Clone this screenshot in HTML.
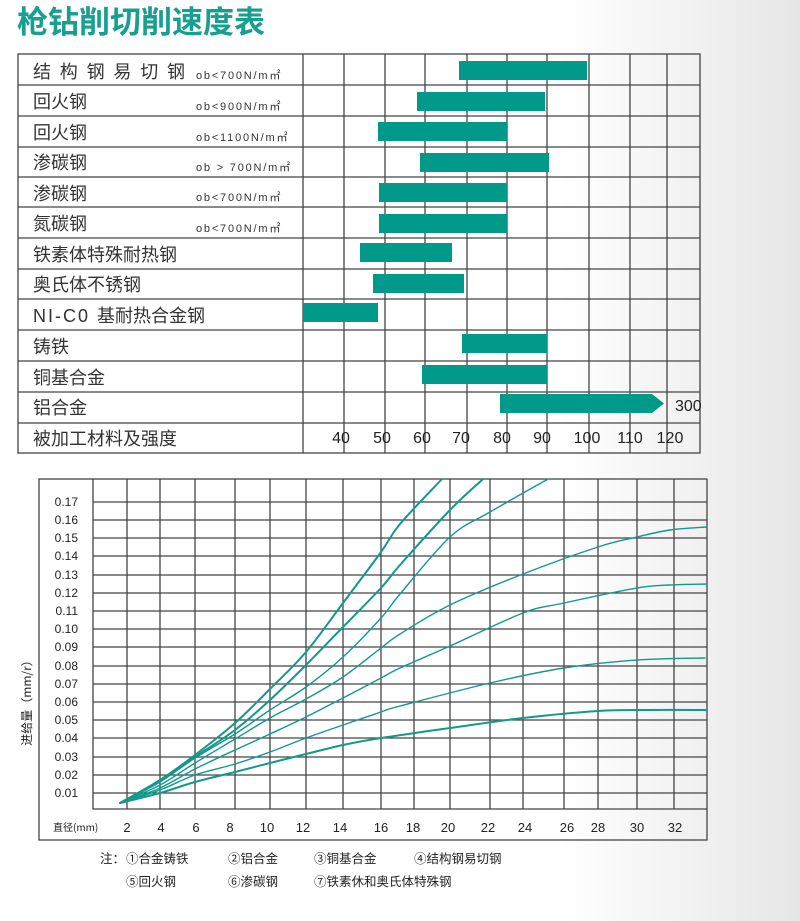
<!DOCTYPE html>
<html><head><meta charset="utf-8"><style>
html,body{margin:0;padding:0}
body{width:800px;height:916px;overflow:hidden;background:linear-gradient(to right,#fff 0%,#fff 70%,#e6e6e6 100%);font-family:"Liberation Sans","Noto Sans CJK SC",sans-serif}
</style></head><body>
<svg width="800" height="916" viewBox="0 0 800 916" xmlns="http://www.w3.org/2000/svg" font-family="Liberation Sans, Noto Sans CJK SC, sans-serif">
<text x="17" y="33" font-size="31" font-weight="bold" fill="#17a08f" font-family="Noto Sans CJK SC, sans-serif">枪钻削切削速度表</text>
<g stroke="#444" stroke-width="1.3" fill="none">
<rect x="18" y="54" width="682" height="399"/>
<path d="M18 85H700M18 116H700M18 147H700M18 177H700M18 207H700M18 238H700M18 269H700M18 299H700M18 330H700M18 361H700M18 392H700M18 423H700"/>
<path d="M303 54V453M344 54V453M385 54V453M425 54V453M467 54V453M507 54V453M547 54V453M589 54V453M630 54V453M667 54V453"/>
</g>
<g fill="#00998a">
<rect x="459" y="61" width="128" height="19"/>
<rect x="417" y="92" width="128" height="19"/>
<rect x="378" y="122" width="129" height="19"/>
<rect x="420" y="153" width="129" height="19"/>
<rect x="379" y="183" width="128" height="19"/>
<rect x="379" y="214" width="128" height="19"/>
<rect x="360" y="243" width="92" height="19"/>
<rect x="373" y="274" width="91" height="19"/>
<rect x="303" y="303" width="75" height="19"/>
<rect x="462" y="334" width="85" height="19"/>
<rect x="422" y="365" width="125" height="19"/>
<polygon points="500,394 652,394 664,403.5 652,413 500,413"/>
</g>
<text x="675" y="411" font-size="16" fill="#222">300</text>
<g font-size="18" fill="#333" font-family="Noto Sans CJK SC, sans-serif">
<text x="33" y="78" letter-spacing="8.8">结构钢易切钢</text>
<text x="33" y="108">回火钢</text>
<text x="33" y="139">回火钢</text>
<text x="33" y="169">渗碳钢</text>
<text x="33" y="200">渗碳钢</text>
<text x="33" y="230">氮碳钢</text>
<text x="33" y="261">铁素体特殊耐热钢</text>
<text x="33" y="291">奥氏体不锈钢</text>
<text x="33" y="322"><tspan font-family="Liberation Sans" letter-spacing="2">NI-C0 </tspan>基耐热合金钢</text>
<text x="33" y="353">铸铁</text>
<text x="33" y="384">铜基合金</text>
<text x="33" y="414">铝合金</text>
<text x="33" y="445">被加工材料及强度</text>
</g>
<g font-size="11" fill="#333" letter-spacing="1.8">
<text x="196" y="79">ob&lt;700N/m㎡</text>
<text x="196" y="110">ob&lt;900N/m㎡</text>
<text x="196" y="141">ob&lt;1100N/m㎡</text>
<text x="196" y="171">ob &gt; 700N/m㎡</text>
<text x="196" y="201">ob&lt;700N/m㎡</text>
<text x="196" y="232">ob&lt;700N/m㎡</text>
</g>
<g font-size="16" fill="#222" text-anchor="middle">
<text x="341" y="443">40</text><text x="382" y="443">50</text><text x="422" y="443">60</text><text x="461" y="443">70</text><text x="502" y="443">80</text><text x="542" y="443">90</text><text x="587" y="443">100</text><text x="630" y="443">110</text><text x="670" y="443">120</text>
</g>
<g stroke="#444" stroke-width="1.3" fill="none">
<rect x="39" y="479" width="668" height="361"/>
<path d="M93 479V809H707"/>
<path d="M93 502H707M93 520H707M93 538H707M93 556H707M93 575H707M93 593H707M93 611H707M93 629H707M93 647H707M93 666H707M93 684H707M93 702H707M93 720H707M93 738H707M93 757H707M93 775H707M93 793H707"/>
<path d="M127 479V809M160 479V809M195 479V809M235 479V809M270 479V809M306 479V809M343 479V809M381 479V809M414 479V809M450 479V809M490 479V809M523 479V809M564 479V809M598 479V809M637 479V809M674 479V809"/>
</g>
<g fill="none" stroke="#12998c" stroke-linejoin="round" stroke-linecap="round">
<path class="c" stroke-width="2" d="M120 803 L160 780 L195 755 L235 723 L270 689 L306 652 L343 603 L381 552 L400 524 L442 479"/>
<path class="c" stroke-width="2" d="M120 803 L160 781 L195 757 L235 730 L270 700 L306 665 L343 627 L381 588 L400 565 L450 510 L483 479"/>
<path class="c" stroke-width="1.4" d="M120 803 L160 782 L195 758 L235 734 L270 710 L306 687 L343 657 L381 618 L400 594 L450 537 L490 512 L548 479"/>
<path class="c" stroke-width="1.4" d="M120 803 L160 785 L195 763 L235 739 L270 718 L306 699 L343 677 L381 648 L400 634 L450 605 L523 574 L598 547 L637 537 L670 530 L707 527"/>
<path class="c" stroke-width="1.4" d="M120 803 L160 788 L195 769 L235 750 L270 734 L306 717 L343 698 L381 678 L400 668 L450 646 L523 613 L564 603 L637 588 L670 585 L707 584"/>
<path class="c" stroke-width="1.4" d="M120 803 L160 790 L195 775 L235 764 L270 752 L306 738 L343 725 L381 712 L400 706 L490 683 L564 668 L637 660 L705 658"/>
<path class="c" stroke-width="2" d="M120 803 L160 793 L195 782 L235 772 L270 763 L306 754 L343 745 L381 738 L450 728 L523 718 L598 711 L650 710 L707 710"/>
</g>
<g font-size="12" fill="#222" text-anchor="end">
<text x="78" y="506">0.17</text><text x="78" y="524">0.16</text><text x="78" y="542">0.15</text><text x="78" y="560">0.14</text><text x="78" y="579">0.13</text><text x="78" y="597">0.12</text><text x="78" y="615">0.11</text><text x="78" y="633">0.10</text><text x="78" y="651">0.09</text><text x="78" y="670">0.08</text><text x="78" y="688">0.07</text><text x="78" y="706">0.06</text><text x="78" y="724">0.05</text><text x="78" y="742">0.04</text><text x="78" y="761">0.03</text><text x="78" y="779">0.02</text><text x="78" y="797">0.01</text>
</g>
<text transform="translate(31 700) rotate(-90)" font-size="12" fill="#222" text-anchor="middle" font-family="Noto Sans CJK SC, sans-serif">进给量（mm/r）</text>
<text x="53" y="831" font-size="10" fill="#222" font-family="Noto Sans CJK SC, sans-serif">直径(mm)</text>
<g font-size="13" fill="#222" text-anchor="middle">
<text x="127" y="832">2</text><text x="161" y="832">4</text><text x="196" y="832">6</text><text x="230" y="832">8</text><text x="267" y="832">10</text><text x="303" y="832">12</text><text x="340" y="832">14</text><text x="381" y="832">16</text><text x="413" y="832">18</text><text x="448" y="832">20</text><text x="488" y="832">22</text><text x="525" y="832">24</text><text x="567" y="832">26</text><text x="598" y="832">28</text><text x="637" y="832">30</text><text x="675" y="832">32</text>
</g>
<g font-size="12.5" fill="#222" font-family="Noto Sans CJK SC, sans-serif">
<text x="100" y="863">注：</text>
<text x="126" y="863">①合金铸铁</text><text x="228" y="863">②铝合金</text><text x="314" y="863">③铜基合金</text><text x="414" y="863">④结构钢易切钢</text>
<text x="126" y="886">⑤回火钢</text><text x="228" y="886">⑥渗碳钢</text><text x="314" y="886">⑦铁素休和奥氏体特殊钢</text>
</g>
</svg>
<script>
document.querySelectorAll('path.c').forEach(function(p){
  var n=p.getAttribute('d').match(/-?[\d.]+/g).map(Number),pts=[];
  for(var i=0;i<n.length;i+=2)pts.push([n[i],n[i+1]]);
  var d='M'+pts[0][0]+' '+pts[0][1];
  for(var i=0;i<pts.length-1;i++){
    var p0=pts[i-1]||pts[i],p1=pts[i],p2=pts[i+1],p3=pts[i+2]||p2;
    var c1=[p1[0]+(p2[0]-p0[0])/6,p1[1]+(p2[1]-p0[1])/6],c2=[p2[0]-(p3[0]-p1[0])/6,p2[1]-(p3[1]-p1[1])/6];
    d+=' C'+c1[0].toFixed(1)+' '+c1[1].toFixed(1)+' '+c2[0].toFixed(1)+' '+c2[1].toFixed(1)+' '+p2[0]+' '+p2[1];
  }
  p.setAttribute('d',d);
});
</script>
</body></html>
